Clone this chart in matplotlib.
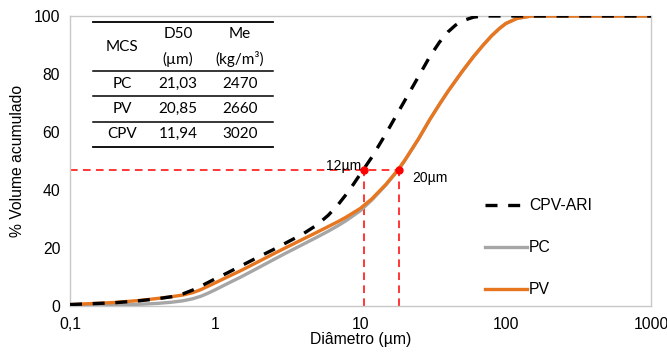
import matplotlib
matplotlib.use("Agg")
import matplotlib.pyplot as plt
from matplotlib.lines import Line2D

plt.rcParams['font.family'] = ['Liberation Sans', 'DejaVu Sans']

# particle size distribution, cumulative volume (%)
diam_cpv = [0.1, 0.2, 0.3, 0.4, 0.5, 0.6, 0.7, 0.8, 0.9, 1.0, 1.2, 1.5, 2, 2.5, 3, 4, 5, 6, 7, 8, 9,
            10, 12, 15, 18, 20, 25, 30, 35, 40, 45, 50, 60, 70, 1000]
cpv = [0.5, 1.1, 1.8, 2.5, 3.2, 4.2, 5.5, 6.9, 8.2, 9.4, 11.3, 13.8, 17.0, 19.4, 21.5, 24.8, 27.9, 31.3, 34.9, 38.6, 42.2,
       45.6, 51.4, 59.5, 66.5, 70.5, 79.0, 86.0, 91.0, 94.5, 96.8, 98.3, 99.6, 100, 100]

diam = [0.1, 0.2, 0.3, 0.4, 0.5, 0.6, 0.7, 0.8, 0.9, 1.0, 1.2, 1.5, 2, 2.5, 3, 4, 5, 6, 7, 8,
        10, 12, 15, 18, 20, 25, 30, 35, 40, 50, 60, 70, 80, 90, 100, 120, 150, 1000]
pc = [0.2, 0.4, 0.6, 0.9, 1.3, 1.8, 2.5, 3.4, 4.5, 5.6, 7.6, 10.0, 13.3, 15.9, 18.0, 21.2, 23.7, 25.8, 27.7, 29.5,
      32.9, 36.6, 41.8, 46.6, 49.8, 57.5, 64.3, 69.6, 74.0, 80.8, 86.0, 90.0, 93.2, 95.6, 97.4, 99.2, 100, 100]
pv = [0.5, 1.2, 1.9, 2.6, 3.2, 3.8, 4.6, 5.7, 6.9, 8.0, 9.9, 12.2, 15.4, 17.9, 19.9, 23.0, 25.4, 27.4, 29.1, 30.7,
      33.7, 37.0, 42.0, 46.8, 50.0, 57.5, 64.3, 69.6, 74.0, 80.8, 86.0, 90.0, 93.2, 95.6, 97.4, 99.2, 100, 100]

# D50 markers
d50_pos = [10.5, 18.3]
d50_level = 47
d50_labels = ["12µm", "20µm"]

# summary table
tab_header = ["MCS", "D50\n(µm)", "Me\n(kg/m³)"]
tab_rows = [["PC", "21,03", "2470"],
            ["PV", "20,85", "2660"],
            ["CPV", "11,94", "3020"]]

xticks = [0.1, 1, 10, 100, 1000]
xticklabels = ["0,1", "1", "10", "100", "1000"]

W, H = 667, 356
fig = plt.figure(figsize=(W / 100, H / 100), dpi=100)
ax = fig.add_axes([70 / W, 1 - 306 / H, 581 / W, 290 / H])

red = '#FF0000'
ax.plot([diam[0], d50_pos[1]], [d50_level, d50_level], color=red, lw=1.1, dashes=(5, 3.5), zorder=2)
for d in d50_pos:
    ax.plot([d, d], [0, d50_level], color=red, lw=1.1, dashes=(5, 3.5), zorder=2)
ax.plot(d50_pos, [d50_level] * 2, 'o', color=red, ms=5, zorder=6)

ax.plot(diam, pc, color='#A6A6A6', lw=2.4, zorder=3, solid_capstyle='butt')
ax.plot(diam, pv, color='#E8761E', lw=2.4, zorder=4, solid_capstyle='butt')
ax.plot(diam_cpv, cpv, color='black', lw=2.4, dashes=(3.6, 3.2), zorder=5)

ax.text(d50_pos[0] * 0.96, d50_level + 1.2, d50_labels[0], ha='right', va='center',
        fontsize=10, zorder=7)
ax.text(d50_pos[1] * 1.25, d50_level - 2.8, d50_labels[1], ha='left', va='center',
        fontsize=10, zorder=7)

ax.set_xscale('log')
ax.set_xlim(0.1, 1000)
ax.set_ylim(0, 100)
ax.set_xticks(xticks)
ax.set_xticklabels(xticklabels)
ax.minorticks_off()
ax.set_yticks(range(0, 101, 20))
ax.tick_params(length=0, labelsize=11.3, pad=7)
ax.tick_params(axis='x', pad=8)
for s in ax.spines.values():
    s.set_color('#C8C8C8')
    s.set_linewidth(1)
ax.set_xlabel('Diâmetro (µm)', fontsize=11.3, labelpad=0)
ax.set_ylabel('% Volume acumulado', fontsize=11.3, labelpad=6)

handles = [Line2D([], [], color='black', lw=2.4, dashes=(3.6, 3.2)),
           Line2D([], [], color='#A6A6A6', lw=2.4),
           Line2D([], [], color='#E8761E', lw=2.4)]
ax.legend(handles, ['CPV-ARI', 'PC', 'PV'], loc='upper left', bbox_to_anchor=(0.69, 0.42),
          frameon=False, fontsize=11.3, handlelength=2.7, handletextpad=0.1, labelspacing=1.72)

# table drawn in pixel coordinates of the figure
def fx(px):
    return px / W

def fy(py):
    return 1 - py / H

tfont = dict(family=['Lato', 'DejaVu Sans'], fontsize=11, ha='center', va='center')
col_x = [122, 178, 240]
for yline, lw in [(22, 1.3), (71, 1.1), (96, 1.1), (122, 1.1), (147, 1.3)]:
    fig.add_artist(Line2D([fx(93), fx(273)], [fy(yline), fy(yline)], color='black', lw=lw))
fig.text(fx(col_x[0]), fy(47), tab_header[0], **tfont)
for i in (1, 2):
    top, bot = tab_header[i].split("\n")
    fig.text(fx(col_x[i]), fy(34), top, **tfont)
    fig.text(fx(col_x[i]), fy(59), bot, **tfont)
for r, row in enumerate(tab_rows):
    for c, val in enumerate(row):
        fig.text(fx(col_x[c]), fy(84 + 25 * r), val, **tfont)

fig.savefig('out.png', dpi=100)
